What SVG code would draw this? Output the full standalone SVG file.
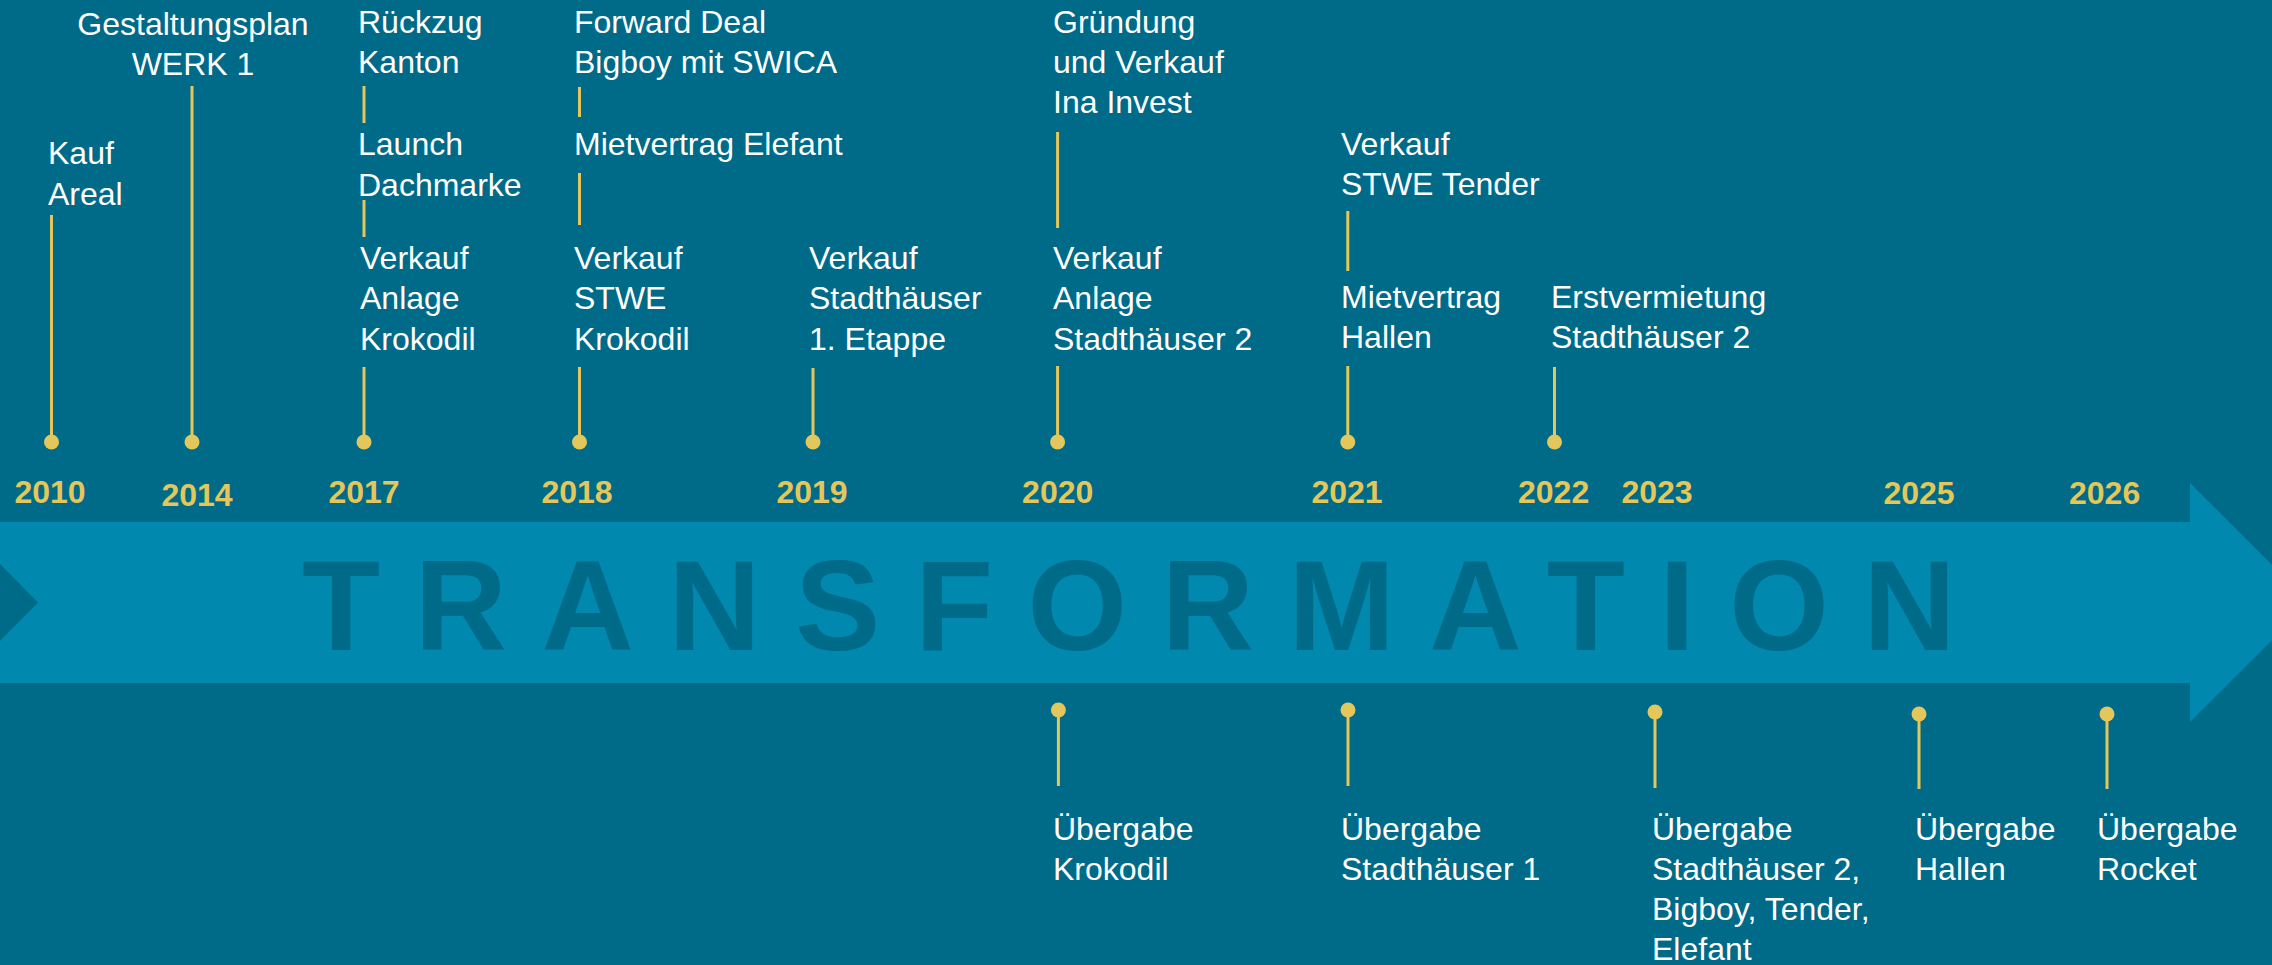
<svg xmlns="http://www.w3.org/2000/svg" width="2272" height="965" viewBox="0 0 2272 965">
<style>
.t{font-family:"Liberation Sans",Arial,sans-serif;font-size:32px;fill:#ffffff}
.y{font-family:"Liberation Sans",Arial,sans-serif;font-size:32px;font-weight:bold;fill:#E3C75A;text-anchor:middle}
.big{font-family:"Liberation Sans",Arial,sans-serif;font-size:128px;font-weight:bold;fill:#006A89;letter-spacing:34.4px}
.s{stroke:#E3C75A;stroke-width:3;fill:none}
.d{fill:#E3C75A}
</style>
<rect width="2272" height="965" fill="#006A89"/>
<g id="arrow">
<polygon points="0,522 2190,522 2190,483 2310,602.5 2190,722 2190,683 0,683 0,641 38,602.5 0,564" fill="#0088AE"/>
<text class="big" x="302" y="650">TRANSFORMATION</text>
</g>
<g id="connectors">
<path class="s" d="M51.5,215V442 M192,86V442 M364,86V123 M364,200V237 M364,367V442 M579.5,87V117 M579.5,173V225 M579.5,367V442 M813,368V442 M1057.6,132V228 M1057.6,366V442 M1347.8,211V271 M1347.8,366V442 M1554.5,367V442 M1058.4,710V786 M1348,710V786 M1655,712V788 M1919,714V789 M2107,714V789"/>
<g class="d">
<circle cx="51.5" cy="442" r="7.5"/><circle cx="192" cy="442" r="7.5"/><circle cx="364" cy="442" r="7.5"/><circle cx="579.5" cy="442" r="7.5"/><circle cx="813" cy="442" r="7.5"/><circle cx="1057.6" cy="442" r="7.5"/><circle cx="1347.8" cy="442" r="7.5"/><circle cx="1554.5" cy="442" r="7.5"/>
<circle cx="1058.4" cy="710" r="7.5"/><circle cx="1348" cy="710" r="7.5"/><circle cx="1655" cy="712" r="7.5"/><circle cx="1919" cy="714" r="7.5"/><circle cx="2107" cy="714" r="7.5"/>
</g>
</g>
<g id="years">
<text class="y" x="50" y="503">2010</text>
<text class="y" x="197" y="506">2014</text>
<text class="y" x="364" y="503">2017</text>
<text class="y" x="577" y="503">2018</text>
<text class="y" x="812" y="503">2019</text>
<text class="y" x="1057.7" y="503">2020</text>
<text class="y" x="1347" y="503">2021</text>
<text class="y" x="1553.6" y="503">2022</text>
<text class="y" x="1657" y="503">2023</text>
<text class="y" x="1919" y="504">2025</text>
<text class="y" x="2104.6" y="504">2026</text>
</g>
<g id="e2010"><text class="t" x="48" y="164">Kauf</text><text class="t" x="48" y="205">Areal</text></g>
<g id="e2014"><text class="t" x="193" y="35" text-anchor="middle">Gestaltungsplan</text><text class="t" x="193" y="75" text-anchor="middle">WERK 1</text></g>
<g id="e2017a"><text class="t" x="358" y="33">Rückzug</text><text class="t" x="358" y="73">Kanton</text></g>
<g id="e2017b"><text class="t" x="358" y="155">Launch</text><text class="t" x="358" y="196">Dachmarke</text></g>
<g id="e2017c"><text class="t" x="360" y="269">Verkauf</text><text class="t" x="360" y="309">Anlage</text><text class="t" x="360" y="350">Krokodil</text></g>
<g id="e2018a"><text class="t" x="574" y="33">Forward Deal</text><text class="t" x="574" y="73">Bigboy mit SWICA</text></g>
<g id="e2018b"><text class="t" x="574" y="155">Mietvertrag Elefant</text></g>
<g id="e2018c"><text class="t" x="574" y="269">Verkauf</text><text class="t" x="574" y="309">STWE</text><text class="t" x="574" y="350">Krokodil</text></g>
<g id="e2019"><text class="t" x="809" y="269">Verkauf</text><text class="t" x="809" y="309">Stadthäuser</text><text class="t" x="809" y="350">1. Etappe</text></g>
<g id="e2020a"><text class="t" x="1053" y="33">Gründung</text><text class="t" x="1053" y="73">und Verkauf</text><text class="t" x="1053" y="113">Ina Invest</text></g>
<g id="e2020b"><text class="t" x="1053" y="269">Verkauf</text><text class="t" x="1053" y="309">Anlage</text><text class="t" x="1053" y="350">Stadthäuser 2</text></g>
<g id="e2021a"><text class="t" x="1341" y="155">Verkauf</text><text class="t" x="1341" y="195">STWE Tender</text></g>
<g id="e2021b"><text class="t" x="1341" y="308">Mietvertrag</text><text class="t" x="1341" y="348">Hallen</text></g>
<g id="e2022"><text class="t" x="1551" y="308">Erstvermietung</text><text class="t" x="1551" y="348">Stadthäuser 2</text></g>
<g id="u2020"><text class="t" x="1053" y="840">Übergabe</text><text class="t" x="1053" y="880">Krokodil</text></g>
<g id="u2021"><text class="t" x="1341" y="840">Übergabe</text><text class="t" x="1341" y="880">Stadthäuser 1</text></g>
<g id="u2023"><text class="t" x="1652" y="840">Übergabe</text><text class="t" x="1652" y="880">Stadthäuser 2,</text><text class="t" x="1652" y="920">Bigboy, Tender,</text><text class="t" x="1652" y="960">Elefant</text></g>
<g id="u2025"><text class="t" x="1915" y="840">Übergabe</text><text class="t" x="1915" y="880">Hallen</text></g>
<g id="u2026"><text class="t" x="2097" y="840">Übergabe</text><text class="t" x="2097" y="880">Rocket</text></g>
</svg>
